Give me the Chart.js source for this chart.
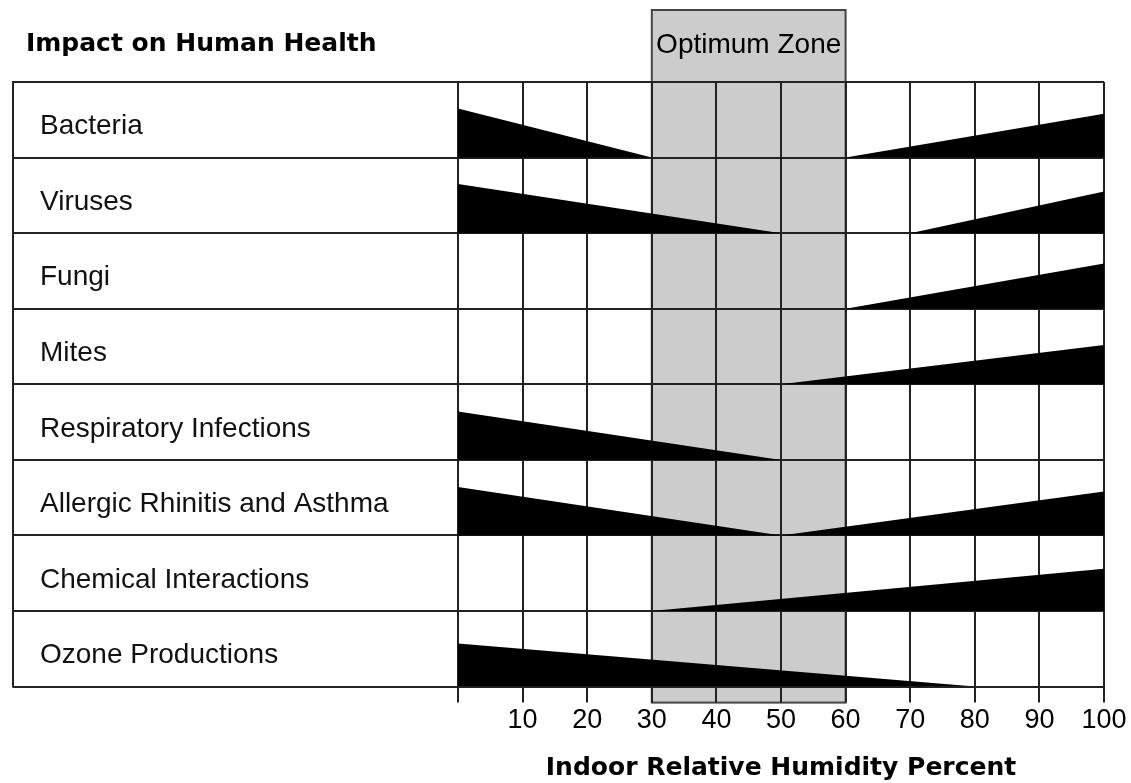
<!DOCTYPE html>
<html>
<head>
<meta charset="utf-8">
<title>Impact on Human Health</title>
<script src="https://cdn.jsdelivr.net/npm/chart.js@4.4.0/dist/chart.umd.min.js"></script>
<style>
  html, body { margin: 0; padding: 0; background: #fff; }
  canvas { display: block; }
</style>
</head>
<body>
<canvas id="chart" width="1131" height="783"></canvas>
<script>
// rows, top to bottom
const rowLabels = [
    'Bacteria',
    'Viruses',
    'Fungi',
    'Mites',
    'Respiratory Infections',
    'Allergic Rhinitis and Asthma',
    'Chemical Interactions',
    'Ozone Productions'
];

// wedge falling from 0% humidity down to "leftEnd" (null = none)
const leftEnd    = [30, 50, null, null, 50, 50, null, 80];
const leftHeight = [0.65, 0.65, null, null, 0.64, 0.64, null, 0.57];

// wedge rising from "rightStart" up to 100% humidity (null = none)
const rightStart  = [60, 70, 60, 50, null, 50, 30, null];
const rightHeight = [0.58, 0.55, 0.60, 0.52, null, 0.58, 0.56, null];

const humidityTicks = [0, 10, 20, 30, 40, 50, 60, 70, 80, 90, 100];
const optimumZone = [30, 60];

const nRows = rowLabels.length;

// build one filled line dataset per wedge, baseline = bottom of its row
const datasets = [];
rowLabels.forEach((name, i) => {
    const base = nRows - 1 - i;
    if (leftEnd[i] !== null) {
        datasets.push({
            label: name + ' (dry)',
            data: [{ x: 0, y: base + leftHeight[i] }, { x: leftEnd[i], y: base }],
            fill: { value: base },
            backgroundColor: '#000',
            borderColor: '#000',
            borderWidth: 0,
            pointRadius: 0,
            tension: 0,
        });
    }
    if (rightStart[i] !== null) {
        datasets.push({
            label: name + ' (humid)',
            data: [{ x: rightStart[i], y: base }, { x: 100, y: base + rightHeight[i] }],
            fill: { value: base },
            backgroundColor: '#000',
            borderColor: '#000',
            borderWidth: 0,
            pointRadius: 0,
            tension: 0,
        });
    }
});

// gray zone, label column frame and headings
const framePlugin = {
    id: 'frame',
    beforeDraw(chart) {
        const ctx = chart.ctx;
        const x = chart.scales.x;
        const area = chart.chartArea;
        ctx.save();
        ctx.fillStyle = '#fff';
        ctx.fillRect(0, 0, chart.width, chart.height);
        const x0 = x.getPixelForValue(optimumZone[0]);
        const x1 = x.getPixelForValue(optimumZone[1]);
        const top = area.top - 72;
        const bottom = area.bottom + 16;
        ctx.fillStyle = '#cccccc';
        ctx.fillRect(x0, top, x1 - x0, bottom - top);
        ctx.strokeStyle = '#444';
        ctx.lineWidth = 2;
        ctx.strokeRect(x0, top, x1 - x0, bottom - top);
        ctx.restore();
    },
    afterDraw(chart) {
        const ctx = chart.ctx;
        const x = chart.scales.x;
        const y = chart.scales.y;
        const area = chart.chartArea;
        ctx.save();
        // left edge of the label column
        ctx.strokeStyle = '#222';
        ctx.lineWidth = 2;
        ctx.beginPath();
        ctx.moveTo(13, y.getPixelForValue(nRows) - 1);
        ctx.lineTo(13, y.getPixelForValue(0) + 1);
        ctx.stroke();

        ctx.fillStyle = '#000';
        ctx.textBaseline = 'alphabetic';
        ctx.textAlign = 'center';
        ctx.font = '28px "Liberation Sans", Arial, sans-serif';
        const cx = (x.getPixelForValue(optimumZone[0]) + x.getPixelForValue(optimumZone[1])) / 2;
        ctx.fillText('Optimum Zone', cx, area.top - 29);

        ctx.textAlign = 'left';
        ctx.font = 'bold 25px "DejaVu Sans", sans-serif';
        ctx.fillText('Impact on Human Health', 26, 51);
        ctx.restore();
    }
};

const ctx = document.getElementById('chart').getContext('2d');

new Chart(ctx, {
    type: 'line',
    data: { datasets: datasets },
    options: {
        responsive: false,
        animation: false,
        events: [],
        layout: { padding: { left: 40, right: 27, top: 82, bottom: 0 } },
        plugins: {
            legend: { display: false },
            tooltip: { enabled: false },
        },
        scales: {
            x: {
                type: 'linear',
                min: 0,
                max: 100,
                afterBuildTicks: (scale) => {
                    scale.ticks = humidityTicks.map(v => ({ value: v }));
                },
                ticks: {
                    color: '#000',
                    font: { family: '"Liberation Sans", Arial, sans-serif', size: 27 },
                    padding: 2,
                    maxRotation: 0,
                    autoSkip: false,
                    callback: (v) => (v === 0 ? '' : v),
                },
                grid: { color: '#222', lineWidth: 2, tickLength: 16 },
                border: { color: '#222', width: 2 },
                title: {
                    display: true,
                    text: 'Indoor Relative Humidity Percent',
                    color: '#000',
                    font: { family: '"DejaVu Sans", sans-serif', size: 25, weight: 'bold' },
                    padding: { top: 14, bottom: 0 },
                },
            },
            y: {
                type: 'linear',
                min: 0,
                max: nRows,
                afterBuildTicks: (scale) => {
                    const t = [];
                    for (let k = 0; k <= nRows; k++) t.push({ value: k });
                    scale.ticks = t;
                },
                afterFit: (scale) => { scale.width = 418; },
                ticks: {
                    color: '#111',
                    font: { family: '"Liberation Sans", Arial, sans-serif', size: 28 },
                    crossAlign: 'far',
                    labelOffset: -31,
                    autoSkip: false,
                    callback: (v) => (v < nRows ? rowLabels[nRows - 1 - v] : ''),
                },
                grid: { color: '#222', lineWidth: 2, tickLength: 445 },
                border: { color: '#222', width: 2 },
            },
        },
    },
    plugins: [framePlugin],
});
</script>
</body>
</html>
